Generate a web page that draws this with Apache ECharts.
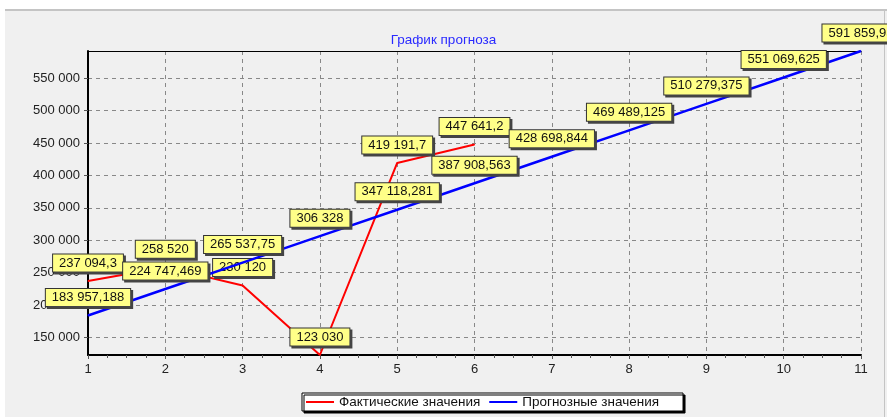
<!DOCTYPE html>
<html>
<head>
<meta charset="utf-8">
<script src="https://cdn.jsdelivr.net/npm/echarts@6/dist/echarts.min.js"></script>
<style>
    html, body { margin: 0; padding: 0; background: #ffffff; }
    #chart { width: 887px; height: 417px; }
</style>
</head>
<body>
<div id="chart"></div>
<script>
// x positions (periods)
var periods = [1, 2, 3, 4, 5, 6, 7, 8, 9, 10, 11];
// actual values (periods 1..6)
var factValues = [237094.3, 258520, 230120, 123030, 419191.7, 447641.2];
// forecast values (periods 1..11)
var forecastValues = [183957.188, 224747.469, 265537.75, 306328, 347118.281, 387908.563,
    428698.844, 469489.125, 510279.375, 551069.625, 591859.93];
var yTicks = [150000, 200000, 250000, 300000, 350000, 400000, 450000, 500000, 550000];
var seriesNames = ['Фактические значения', 'Прогнозные значения'];

function fmt(v) {
    var s = String(Math.round(v * 1000) / 1000);
    var parts = s.split('.');
    var i = parts[0].replace(/\B(?=(\d{3})+(?!\d))/g, ' ');
    return parts[1] ? i + ',' + parts[1] : i;
}

function pairs(vals) {
    var out = [];
    for (var i = 0; i < vals.length; i++) {
        out.push([periods[i], vals[i]]);
    }
    return out;
}

var labelStyle = {
    show: true,
    position: 'top',
    distance: 9,
    formatter: function (p) { return fmt(p.value[1]); },
    fontFamily: 'Liberation Sans',
    fontSize: 13,
    color: '#111',
    backgroundColor: '#ffff88',
    borderColor: '#333',
    borderWidth: 1,
    padding: [2, 6, 2, 6],
    shadowColor: '#444',
    shadowOffsetX: 2,
    shadowOffsetY: 2,
    shadowBlur: 0
};

var chart = echarts.init(document.getElementById('chart'));
var option = {
    backgroundColor: '#f0f0f0',
    animation: false,
    title: {
        text: 'График прогноза',
        left: 'center',
        top: 28,
        textStyle: { color: '#2a2aff', fontSize: 13.5, fontWeight: 'normal', fontFamily: 'Liberation Sans' }
    },
    graphic: [
        { type: 'rect', shape: { x: 0, y: 0, width: 887, height: 9 }, style: { fill: '#ffffff' }, silent: true },
        { type: 'rect', shape: { x: 0, y: 9, width: 887, height: 2 }, style: { fill: '#c4c4c4' }, silent: true },
        { type: 'rect', shape: { x: 0, y: 0, width: 5, height: 417 }, style: { fill: '#ffffff' }, silent: true },
        { type: 'rect', shape: { x: 884, y: 11, width: 1, height: 406 }, style: { fill: '#c4c4c4' }, silent: true }
    ],
    legend: {
        left: 302,
        top: 393,
        icon: 'rect',
        itemWidth: 28,
        itemHeight: 2,
        itemGap: 9,
        padding: [2, 24, 2, 4],
        backgroundColor: '#ffffff',
        borderColor: '#000',
        borderWidth: 1,
        shadowColor: '#000',
        shadowOffsetX: 2,
        shadowOffsetY: 2,
        shadowBlur: 0,
        textStyle: { fontFamily: 'Liberation Sans', fontSize: 13.5, color: '#111' },
        data: seriesNames
    },
    grid: { left: 88, right: 26, top: 51, bottom: 62 },
    xAxis: [{
        type: 'value',
        min: 1,
        max: 11,
        interval: 1,
        axisLine: { show: true, lineStyle: { color: '#000', width: 2 } },
        axisTick: { show: true, length: 4, lineStyle: { color: '#555' } },
        minorTick: { show: true, splitNumber: 4, length: 3, lineStyle: { color: '#555' } },
        axisLabel: { color: '#222', fontSize: 13, fontFamily: 'Liberation Sans', margin: 8 },
        splitLine: { show: true, lineStyle: { color: '#888', type: [4, 4], width: 1 } }
    }, {
        type: 'value',
        position: 'top',
        min: 1,
        max: 11,
        axisLine: { show: true, lineStyle: { color: '#000', width: 1 } },
        axisTick: { show: false },
        axisLabel: { show: false },
        splitLine: { show: false }
    }],
    yAxis: {
        type: 'value',
        min: 123030,
        max: 591859.93,
        axisLine: { show: true, lineStyle: { color: '#000', width: 2 } },
        axisTick: { show: true, length: 4, customValues: yTicks, lineStyle: { color: '#555' } },
        axisLabel: {
            customValues: yTicks,
            color: '#222',
            fontSize: 13,
            fontFamily: 'Liberation Sans',
            margin: 8,
            formatter: function (v) { return fmt(v); }
        },
        splitLine: { show: true, lineStyle: { color: '#888', type: [4, 4], width: 1 } }
    },
    series: [{
        name: seriesNames[0],
        type: 'line',
        z: 2,
        data: pairs(factValues),
        symbol: 'circle',
        symbolSize: 1,
        lineStyle: { color: '#ff0000', width: 2 },
        itemStyle: { color: '#ff0000' },
        label: labelStyle
    }, {
        name: seriesNames[1],
        type: 'line',
        z: 3,
        data: pairs(forecastValues),
        symbol: 'circle',
        symbolSize: 1,
        lineStyle: { color: '#0000ff', width: 2.5 },
        itemStyle: { color: '#0000ff' },
        label: labelStyle
    }]
};
chart.setOption(option);
</script>
</body>
</html>
